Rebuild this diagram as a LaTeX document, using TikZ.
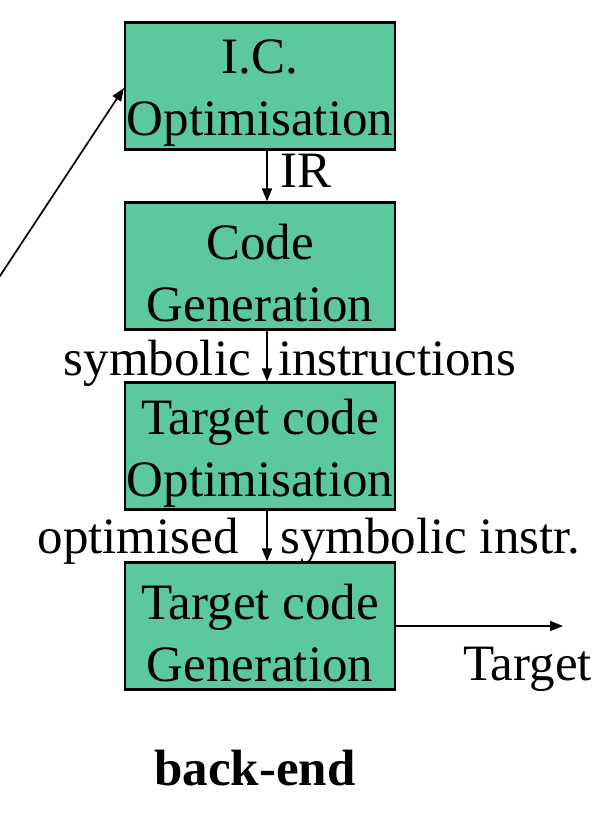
\documentclass[tikz,border=0pt]{standalone}
\usepackage{fontspec}
\setmainfont{Liberation Serif}
\usetikzlibrary{arrows.meta}
\definecolor{stagegreen}{RGB}{91,200,157}

\begin{document}
\begin{tikzpicture}[x=1pt,y=-1pt,
        stage/.style={draw,line width=2.2pt,fill=stagegreen,minimum width=270pt,minimum height=127pt,inner sep=0pt},
        stagetext/.style={align=center,inner sep=0pt,font=\fontsize{51}{62}\selectfont},
        lbl/.style={font=\fontsize{51}{62}\selectfont,inner sep=0pt},
        flow/.style={line width=1.7pt,-{Triangle[length=13pt,width=10pt]}}]
        \useasboundingbox (0,0) rectangle (612,818);
        \node[stage](ic) at (260,86) {};
        \node[stage](cg) at (260,266) {};
        \node[stage](to) at (260,446) {};
        \node[stage](tg) at (260,626) {};
        \node[stagetext](ict) at (260,93) {I.C.\\Optimisation};
        \node[stagetext](cgt) at (260,273) {Code\\Generation};
        \node[stagetext](tot) at (260,453) {Target code\\Optimisation};
        \node[stagetext](tgt) at (260,633) {Target code\\Generation};
        \coordinate(fe) at (-4,282);
        \coordinate(out) at (563,626);
        \draw[flow](fe)--(ic.west |- 0,88);
        \draw[flow]([xshift=7pt]ic.south)--([xshift=7pt]cg.north);
        \draw[flow]([xshift=7pt]cg.south)--([xshift=7pt]to.north);
        \draw[flow]([xshift=7pt]to.south)--([xshift=7pt]tg.north);
        \draw[flow](tg.east)--(out);
        \node[lbl,anchor=base west](ir) at (280,188) {IR};
        \node[lbl,anchor=base east](sy) at (251,375) {symbolic};
        \node[lbl,anchor=base west](in) at (278,375) {instructions};
        \node[lbl,anchor=base east](op) at (239,553) {optimised};
        \node[lbl,anchor=base west](si) at (280,553) {symbolic instr.};
        \node[lbl,anchor=base west](tl) at (463,680) {Target};
        \node[lbl,anchor=base,font=\fontsize{51}{62}\selectfont\bfseries](be) at (255,785) {back-end};
\end{tikzpicture}
\end{document}
